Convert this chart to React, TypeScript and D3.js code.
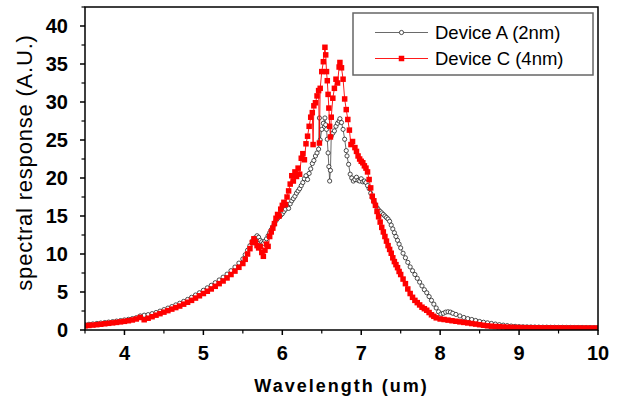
import React from "react";
import * as d3 from "d3";

const seriesNames = ["Device A (2nm)", "Device C (4nm)"];

const wlA = [
  3.5, 3.55, 3.6, 3.65, 3.7, 3.75, 3.8, 3.85, 3.9, 3.95, 4.0, 4.05, 4.1, 4.15, 4.2, 4.25, 4.3, 4.35, 4.4, 4.45,
  4.5, 4.55, 4.6, 4.65, 4.7, 4.75, 4.8, 4.85, 4.9, 4.95, 5.0, 5.05, 5.1, 5.15, 5.2, 5.25, 5.3, 5.35, 5.4, 5.45,
  5.5, 5.53, 5.56, 5.59, 5.62, 5.65, 5.68, 5.7, 5.72, 5.74, 5.76, 5.78, 5.8, 5.82, 5.84, 5.86, 5.88, 5.9, 5.92, 5.94,
  5.96, 5.98, 6.0, 6.02, 6.04, 6.06, 6.08, 6.1, 6.12, 6.14, 6.16, 6.18, 6.2, 6.22, 6.24, 6.26, 6.28, 6.3, 6.32, 6.34,
  6.36, 6.38, 6.4, 6.42, 6.44, 6.46, 6.47, 6.48, 6.5, 6.52, 6.54, 6.55, 6.56, 6.57, 6.58, 6.59, 6.6, 6.61, 6.62, 6.64,
  6.66, 6.68, 6.7, 6.72, 6.73, 6.75, 6.77, 6.79, 6.81, 6.82, 6.84, 6.86, 6.88, 6.9, 6.92, 6.94, 6.96, 6.98, 7.0, 7.02,
  7.04, 7.06, 7.08, 7.1, 7.12, 7.14, 7.16, 7.18, 7.2, 7.22, 7.24, 7.26, 7.28, 7.3, 7.32, 7.34, 7.36, 7.38, 7.4, 7.42,
  7.44, 7.46, 7.48, 7.5, 7.53, 7.56, 7.59, 7.62, 7.65, 7.68, 7.71, 7.74, 7.77, 7.8, 7.83, 7.86, 7.89, 7.92, 7.95, 7.98,
  8.01, 8.04, 8.07, 8.1, 8.13, 8.16, 8.2, 8.25, 8.3, 8.35, 8.4, 8.45, 8.5, 8.55, 8.6, 8.65, 8.7, 8.75, 8.8, 8.85,
  8.9, 8.95, 9.0, 9.05, 9.1, 9.15, 9.2, 9.25, 9.3, 9.35, 9.4, 9.45, 9.5, 9.55, 9.6, 9.65, 9.7, 9.75, 9.8, 9.85,
  9.9, 9.95, 10.0,
];
const valA = [
  0.7, 0.75, 0.8, 0.86, 0.92, 0.98, 1.04, 1.1, 1.17, 1.24, 1.32, 1.4, 1.5, 1.62, 1.85, 1.95, 2.02, 2.15, 2.3, 2.48,
  2.68, 2.88, 3.08, 3.3, 3.52, 3.76, 4.02, 4.3, 4.6, 4.9, 5.22, 5.55, 5.88, 6.22, 6.58, 6.95, 7.35, 7.8, 8.28, 8.8,
  9.35, 9.9, 10.5, 11.1, 11.7, 12.1, 12.4, 12.2, 11.8, 11.6, 11.4, 11.7, 12.0, 12.4, 12.8, 13.2, 13.6, 14.0, 14.4, 14.7,
  14.9, 15.1, 15.3, 15.6, 15.9, 16.3, 16.0, 16.6, 17.0, 17.3, 17.6, 18.0, 18.3, 18.6, 19.0, 19.4, 19.9, 20.3, 19.8, 20.6,
  21.2, 21.9, 22.3, 22.9, 23.3, 23.8, 27.9, 25.0, 26.4, 27.2, 27.9, 27.0, 26.4, 25.1, 23.3, 21.5, 19.6, 21.0, 25.5, 25.9,
  26.2, 26.8, 27.2, 27.5, 27.8, 27.3, 26.4, 25.1, 23.6, 22.9, 21.8, 20.5, 20.0, 19.6, 19.8, 20.1, 19.7, 19.6, 19.9, 19.5,
  19.6, 19.4, 19.0, 18.6, 18.0, 17.4, 16.9, 16.5, 16.1, 15.8, 15.6, 15.4, 15.2, 15.0, 14.8, 14.6, 14.3, 13.8, 13.3, 12.8,
  12.3, 11.8, 11.3, 10.8, 10.1, 9.5, 8.9, 8.3, 7.8, 7.3, 6.8, 6.3, 5.8, 5.3, 4.9, 4.4, 3.9, 3.4, 2.9, 2.4,
  2.1, 2.2, 2.35, 2.4, 2.35, 2.2, 2.05, 1.85, 1.65, 1.5, 1.38, 1.25, 1.12, 1.02, 0.94, 0.86, 0.78, 0.7, 0.64, 0.58,
  0.52, 0.48, 0.44, 0.42, 0.41, 0.4, 0.39, 0.38, 0.37, 0.37, 0.36, 0.36, 0.35, 0.35, 0.34, 0.34, 0.33, 0.33, 0.33, 0.32,
  0.32, 0.31, 0.31,
];

const wlC = [
  3.5, 3.55, 3.6, 3.65, 3.7, 3.75, 3.8, 3.85, 3.9, 3.95, 4.0, 4.05, 4.1, 4.15, 4.2, 4.25, 4.3, 4.35, 4.4, 4.45,
  4.5, 4.55, 4.6, 4.65, 4.7, 4.75, 4.8, 4.85, 4.9, 4.95, 5.0, 5.05, 5.1, 5.15, 5.2, 5.25, 5.3, 5.35, 5.4, 5.45,
  5.5, 5.53, 5.56, 5.59, 5.62, 5.64, 5.66, 5.68, 5.7, 5.72, 5.74, 5.76, 5.78, 5.8, 5.82, 5.84, 5.86, 5.88, 5.9, 5.92,
  5.94, 5.96, 5.98, 6.0, 6.02, 6.04, 6.06, 6.08, 6.1, 6.12, 6.14, 6.16, 6.18, 6.2, 6.22, 6.24, 6.26, 6.28, 6.3, 6.32,
  6.34, 6.36, 6.38, 6.39, 6.4, 6.42, 6.44, 6.46, 6.47, 6.48, 6.5, 6.52, 6.54, 6.55, 6.56, 6.57, 6.58, 6.59, 6.6, 6.61,
  6.62, 6.64, 6.66, 6.68, 6.7, 6.72, 6.73, 6.75, 6.77, 6.79, 6.81, 6.83, 6.85, 6.87, 6.89, 6.92, 6.94, 6.96, 6.98, 7.0,
  7.02, 7.04, 7.06, 7.08, 7.1, 7.12, 7.14, 7.16, 7.18, 7.2, 7.22, 7.24, 7.26, 7.28, 7.3, 7.32, 7.34, 7.36, 7.38, 7.4,
  7.42, 7.44, 7.46, 7.48, 7.5, 7.53, 7.56, 7.59, 7.62, 7.65, 7.68, 7.71, 7.74, 7.77, 7.8, 7.83, 7.86, 7.89, 7.92, 7.95,
  8.0, 8.05, 8.1, 8.15, 8.2, 8.25, 8.3, 8.35, 8.4, 8.45, 8.5, 8.55, 8.6, 8.65, 8.7, 8.75, 8.8, 8.85, 8.9, 8.95,
  9.0, 9.05, 9.1, 9.15, 9.2, 9.25, 9.3, 9.35, 9.4, 9.45, 9.5, 9.55, 9.6, 9.65, 9.7, 9.75, 9.8, 9.85, 9.9, 9.95,
  10.0,
];
const valC = [
  0.55, 0.6, 0.65, 0.7, 0.76, 0.82, 0.88, 0.94, 1.0, 1.07, 1.14, 1.22, 1.32, 1.45, 1.65, 1.35, 1.55, 1.75, 1.95, 2.15,
  2.35, 2.55, 2.75, 2.95, 3.15, 3.4, 3.65, 3.9, 4.2, 4.5, 4.8, 5.1, 5.4, 5.75, 6.1, 6.45, 6.85, 7.3, 7.75, 8.25,
  8.75, 9.3, 10.0, 10.7, 11.5, 12.0, 11.6, 11.1, 10.8, 11.0, 10.2, 9.7, 10.5, 11.3, 11.0, 12.3, 12.9, 13.4, 14.0, 14.7,
  15.2, 15.0, 15.9, 16.4, 16.8, 16.5, 17.5, 18.3, 19.2, 20.3, 19.6, 20.8, 20.2, 21.3, 20.5, 22.6, 23.2, 22.4, 24.5, 25.5,
  26.8, 28.0, 28.6, 24.4, 29.5, 29.9, 30.8, 31.5, 24.6, 31.8, 34.0, 35.3, 37.2, 36.2, 34.0, 32.8, 31.0, 29.2, 26.8, 25.4,
  28.0, 30.5, 31.8, 33.0, 32.5, 34.6, 35.2, 34.5, 33.0, 30.4, 29.0, 27.7, 26.3, 24.4, 24.8, 24.0, 23.5, 22.9, 22.5, 22.2,
  22.0, 21.6, 21.3, 20.8, 19.8, 18.7, 17.6, 17.0, 16.4, 15.6, 14.9, 14.2, 13.5, 12.9, 12.3, 11.7, 11.1, 10.6, 10.1, 9.5,
  9.0, 8.6, 8.2, 7.7, 7.3, 6.7, 6.1, 5.4, 4.8, 4.3, 3.9, 3.6, 3.3, 3.0, 2.8, 2.6, 2.3, 2.0, 1.8, 1.6,
  1.45, 1.38, 1.3, 1.22, 1.15, 1.07, 1.0, 0.93, 0.85, 0.78, 0.7, 0.62, 0.55, 0.5, 0.46, 0.43, 0.4, 0.37, 0.35, 0.33,
  0.32, 0.31, 0.3, 0.3, 0.29, 0.29, 0.28, 0.28, 0.28, 0.27, 0.27, 0.27, 0.26, 0.26, 0.26, 0.26, 0.25, 0.25, 0.25, 0.25,
  0.25,
];

const xTicks = [4, 5, 6, 7, 8, 9, 10];
const yTicks = [0, 5, 10, 15, 20, 25, 30, 35, 40];
const xMinor = [3.5, 4.5, 5.5, 6.5, 7.5, 8.5, 9.5];
const yMinor = [2.5, 7.5, 12.5, 17.5, 22.5, 27.5, 32.5, 37.5, 42.5];

const W = 621;
const H = 402;
const L = 85, R = 598, T = 7, B = 330;

export default function App() {
  const x = d3.scaleLinear().domain([3.5, 10]).range([L, R]);
  const y = d3.scaleLinear().domain([0, 42.5]).range([B, T]);
  const A = wlA.map((w, i) => [w, valA[i]] as [number, number]);
  const C = wlC.map((w, i) => [w, valC[i]] as [number, number]);
  const line = d3.line<[number, number]>().x((d) => x(d[0])).y((d) => y(d[1]));
  const font = "Arial, 'Liberation Sans', sans-serif";
  const red = "#ff0000";
  const sq = 5.5;

  return (
    <svg width={W} height={H} style={{ position: "absolute", left: 0, top: 0, background: "#fff" }} fontFamily={font}>
      <rect x={0} y={0} width={W} height={H} fill="#fff" />
      <defs>
        <clipPath id="plotclip">
          <rect x={L} y={T} width={R - L} height={B - T} />
        </clipPath>
      </defs>
      <g clipPath="url(#plotclip)">
        <path d={line(A) || ""} fill="none" stroke="#444" strokeWidth={0.8} />
        {A.map((d, i) => (
          <circle key={"a" + i} cx={x(d[0])} cy={y(d[1])} r={2.1} fill="#fff" stroke="#222" strokeWidth={0.8} />
        ))}
        <path d={line(C) || ""} fill="none" stroke={red} strokeWidth={0.9} />
        {C.map((d, i) => (
          <rect key={"c" + i} x={x(d[0]) - sq / 2} y={y(d[1]) - sq / 2} width={sq} height={sq} fill={red} />
        ))}
      </g>
      <rect x={L} y={T} width={R - L} height={B - T} fill="none" stroke="#000" strokeWidth={1.5} />
      {xTicks.map((t) => (
        <g key={"xt" + t}>
          <line x1={x(t)} x2={x(t)} y1={B} y2={B + 5} stroke="#000" strokeWidth={1.5} />
          <text x={x(t)} y={B + 30} textAnchor="middle" fontSize={20} fontWeight="bold">{t}</text>
        </g>
      ))}
      {xMinor.map((t) => (
        <line key={"xm" + t} x1={x(t)} x2={x(t)} y1={B} y2={B + 3.5} stroke="#000" strokeWidth={1.2} />
      ))}
      {yTicks.map((t) => (
        <g key={"yt" + t}>
          <line x1={L - 5} x2={L} y1={y(t)} y2={y(t)} stroke="#000" strokeWidth={1.5} />
          <text x={L - 17} y={y(t) + 7} textAnchor="end" fontSize={20} fontWeight="bold">{t}</text>
        </g>
      ))}
      {yMinor.map((t) => (
        <line key={"ym" + t} x1={L - 3.5} x2={L} y1={y(t)} y2={y(t)} stroke="#000" strokeWidth={1.2} />
      ))}
      <text x={(L + R) / 2} y={392} textAnchor="middle" fontSize={18} fontWeight="bold" letterSpacing={2}>
        Wavelength (um)
      </text>
      <text
        transform={`translate(32, ${(T + B) / 2 - 6}) rotate(-90)`}
        textAnchor="middle"
        fontSize={22}
        letterSpacing={0.8}
      >
        spectral response (A.U.)
      </text>
      <rect x={353} y={13} width={240} height={62} fill="#fff" stroke="#666" strokeWidth={1.5} />
      <line x1={375} x2={428} y1={32.5} y2={32.5} stroke="#444" strokeWidth={0.8} />
      <circle cx={401.5} cy={32.5} r={2.1} fill="#fff" stroke="#222" strokeWidth={0.8} />
      <text x={435} y={39} fontSize={18.5}>{seriesNames[0]}</text>
      <line x1={375} x2={428} y1={58.5} y2={58.5} stroke={red} strokeWidth={0.9} />
      <rect x={401.5 - sq / 2} y={58.5 - sq / 2} width={sq} height={sq} fill={red} />
      <text x={435} y={65} fontSize={18.5}>{seriesNames[1]}</text>
    </svg>
  );
}
